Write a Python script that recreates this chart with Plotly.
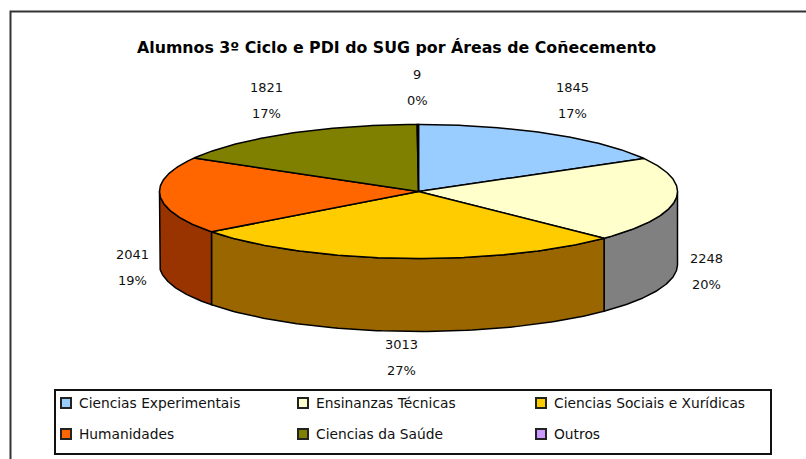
import numpy as np
import plotly.graph_objects as go

TITLE = "Alumnos 3º Ciclo e PDI do SUG por Áreas de Coñecemento"
categories = ["Ciencias Experimentais", "Ensinanzas Técnicas", "Ciencias Sociais e Xurídicas",
              "Humanidades", "Ciencias da Saúde", "Outros"]
values = [1845, 2248, 3013, 2041, 1821, 9]
top_colors = ["#99CCFF", "#FFFFCC", "#FFCC00", "#FF6600", "#808000", "#CC99FF"]
side_colors = ["#4D6680", "#808080", "#996600", "#993300", "#404000", "#664D80"]

# layout constants (pixels)
W, H = 806, 459
CX, CY, RX, RY, DEPTH = 418.5, 191.5, 259, 67, 73
label_pos = [(572, 87), (706, 258), (401, 344), (132, 254), (266, 87), (417, 74)]
LINE_GAP = 26
FONT = "DejaVu Sans"
LEG_COLS = [61, 298, 536]
LEG_ROWS = [403, 434]

def pt(theta, dy=0.0):
    t = np.radians(theta)
    return CX + RX * np.sin(t), CY - RY * np.cos(t) + dy

total = sum(values)
edges = np.concatenate([[0.0], np.cumsum(values) / total * 360.0])

fig = go.Figure()
LINE = dict(color="#000000", width=1.5)

# outer walls (front half only)
for i, v in enumerate(values):
    a, b = max(edges[i], 90.0), min(edges[i + 1], 270.0)
    if b <= a:
        continue
    th = np.linspace(a, b, 80)
    x1, y1 = pt(th)
    x2, y2 = pt(th[::-1], DEPTH)
    fig.add_trace(go.Scatter(x=np.r_[x1, x2, x1[0]], y=np.r_[y1, y2, y1[0]], mode="lines",
                             fill="toself", fillcolor=side_colors[i], line=LINE,
                             showlegend=False, hoverinfo="skip"))
# top faces
for i, v in enumerate(values):
    th = np.linspace(edges[i], edges[i + 1], 120)
    x, y = pt(th)
    fig.add_trace(go.Scatter(x=np.r_[CX, x, CX], y=np.r_[CY, y, CY], mode="lines",
                             fill="toself", fillcolor=top_colors[i], line=LINE,
                             name=categories[i], showlegend=False,
                             hovertemplate="%{fullData.name}<extra></extra>"))

annos = [dict(x=396, y=47, text="<b>%s</b>" % TITLE, showarrow=False, xref="x", yref="y",
              font=dict(family=FONT, size=15.8, color="#000"))]
for (lx, ly), v in zip(label_pos, values):
    annos.append(dict(x=lx, y=ly, text=str(v), showarrow=False, xref="x", yref="y",
                      font=dict(family=FONT, size=13, color="#111")))
    annos.append(dict(x=lx, y=ly + LINE_GAP, text="%d%%" % round(v / total * 100), showarrow=False,
                      xref="x", yref="y", font=dict(family=FONT, size=13, color="#111")))

shapes = [
    dict(type="rect", xref="x", yref="y", x0=10.5, y0=11.5, x1=830, y1=480,
         line=dict(color="#333333", width=2), layer="below"),
    dict(type="rect", xref="x", yref="y", x0=55, y0=390, x1=771, y1=454,
         line=dict(color="#111111", width=2), layer="below"),
]
for i, name in enumerate(categories):
    lx, ly = LEG_COLS[i % 3], LEG_ROWS[i // 3]
    shapes.append(dict(type="rect", xref="x", yref="y", x0=lx, y0=ly - 5, x1=lx + 10, y1=ly + 5,
                       fillcolor=top_colors[i], line=dict(color="#222222", width=2), layer="above"))
    annos.append(dict(x=lx + 16, y=ly, text=name, xanchor="left", showarrow=False, xref="x", yref="y",
                      font=dict(family=FONT, size=13.8, color="#111")))

fig.update_layout(
    width=W, height=H, margin=dict(l=0, r=0, t=0, b=0),
    paper_bgcolor="white", plot_bgcolor="white", showlegend=False,
    xaxis=dict(range=[0, W], visible=False, fixedrange=True),
    yaxis=dict(range=[H, 0], visible=False, fixedrange=True),
    annotations=annos, shapes=shapes,
)
fig.write_html("out.html", config={"displayModeBar": False},
               post_script="document.body.style.margin='0';document.body.style.overflow='hidden';")
